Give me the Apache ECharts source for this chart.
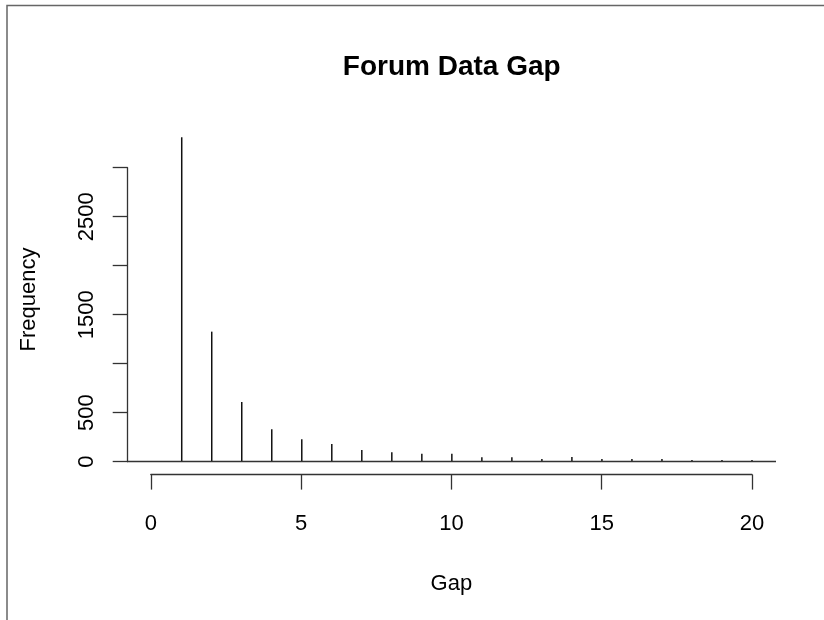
<!DOCTYPE html>
<html lang="en">
	<head>
		<meta charset="UTF-8">
		<title>Forum Data Gap</title>
		<script src="https://cdn.jsdelivr.net/npm/echarts@6/dist/echarts.min.js"></script>
		<style>
			* {
				margin: 0;
				padding: 0;
			}
			body {
				background: #fff;
			}
		</style>
	</head>
	<body>
		<div id="main" style="width:824px;height:620px;"></div>
		<script>
			// gap values and how often each gap occurs
			let gapData = [1, 2, 3, 4, 5, 6, 7, 8, 9, 10, 11, 12, 13, 14, 15, 16, 17, 18, 19, 20];
			let freqData = [3310, 1327, 609, 330, 228, 180, 119, 95, 82, 82, 44, 44, 27, 48, 27, 27, 27, 17, 17, 17];
			let yTickShow = [0, 500, 1500, 2500]; // R drops the labels that would overlap
			let myChart = null;
			let axisColor = "#333";
			let fontName = "Liberation Sans";

			function fresh() {
				if (myChart == null) {
					myChart = echarts.init(document.getElementById('main'));
				}
				let points = gapData.map((g, i) => [g, freqData[i]]);
				let option = {
					backgroundColor: "#fff",
					animation: false,
					title: {
						text: "Forum Data Gap",
						left: 451.7,
						top: 53,
						padding: 0,
						textAlign: "center",
						textStyle: {
							fontFamily: fontName,
							fontSize: 28,
							fontWeight: "bold",
							color: "#000"
						}
					},
					grid: [
						// plot region (data)
						{left: 127.7, top: 124.4, width: 648.3, height: 350.2},
						// y axis only spans 0..3000
						{left: 127.7, top: 167.7, width: 600, height: 294},
						// x axis only spans 0..20
						{left: 150.8, top: 300, width: 601.2, height: 174.6}
					],
					xAxis: [
						{gridIndex: 0, type: 'value', min: -0.8, max: 20.8, show: false},
						{gridIndex: 1, type: 'value', min: 0, max: 1, show: false},
						{
							gridIndex: 2,
							type: 'value',
							min: 0,
							max: 20,
							interval: 5,
							name: "Gap",
							nameLocation: "middle",
							nameGap: 98,
							nameTextStyle: {
								fontFamily: fontName,
								fontSize: 22,
								color: "#000"
							},
							axisLine: {
								show: true,
								lineStyle: {color: axisColor, width: 1.3}
							},
							axisTick: {
								show: true,
								length: 15,
								lineStyle: {color: axisColor, width: 1.3}
							},
							axisLabel: {
								margin: 38,
								fontFamily: fontName,
								fontSize: 22,
								color: "#000"
							},
							splitLine: {show: false}
						}
					],
					yAxis: [
						{
							gridIndex: 0,
							type: 'value',
							min: -132,
							max: 3442,
							name: "Frequency",
							nameLocation: "middle",
							nameGap: 88,
							nameTextStyle: {
								fontFamily: fontName,
								fontSize: 22,
								color: "#000"
							},
							axisLine: {show: false},
							axisTick: {show: false},
							axisLabel: {show: false},
							splitLine: {show: false}
						},
						{
							gridIndex: 1,
							type: 'value',
							min: 0,
							max: 3000,
							interval: 500,
							axisLine: {
								show: true,
								lineStyle: {color: axisColor, width: 1.3}
							},
							axisTick: {
								show: true,
								length: 15,
								lineStyle: {color: axisColor, width: 1.3}
							},
							axisLabel: {
								rotate: 90,
								margin: 30,
								fontFamily: fontName,
								fontSize: 22,
								color: "#000",
								formatter: function(v) {
									return yTickShow.indexOf(v) >= 0 ? String(v) : "";
								}
							},
							splitLine: {show: false}
						},
						{gridIndex: 2, type: 'value', min: 0, max: 1, show: false}
					],
					series: [
						{
							type: 'bar',
							xAxisIndex: 0,
							yAxisIndex: 0,
							barWidth: 1.5,
							itemStyle: {color: "#111"},
							data: points,
							markLine: {
								silent: true,
								symbol: "none",
								label: {show: false},
								lineStyle: {color: axisColor, type: "solid", width: 1.3},
								data: [{yAxis: 0}]
							}
						}
					],
					graphic: [
						// frame of the original screenshot
						{
							type: 'polyline',
							shape: {points: [[7, 620], [7, 5.5], [824, 5.5]]},
							style: {stroke: "#666", lineWidth: 1.5, fill: null}
						}
					]
				};
				myChart.setOption(option);
			}
			fresh();
		</script>
	</body>
</html>
